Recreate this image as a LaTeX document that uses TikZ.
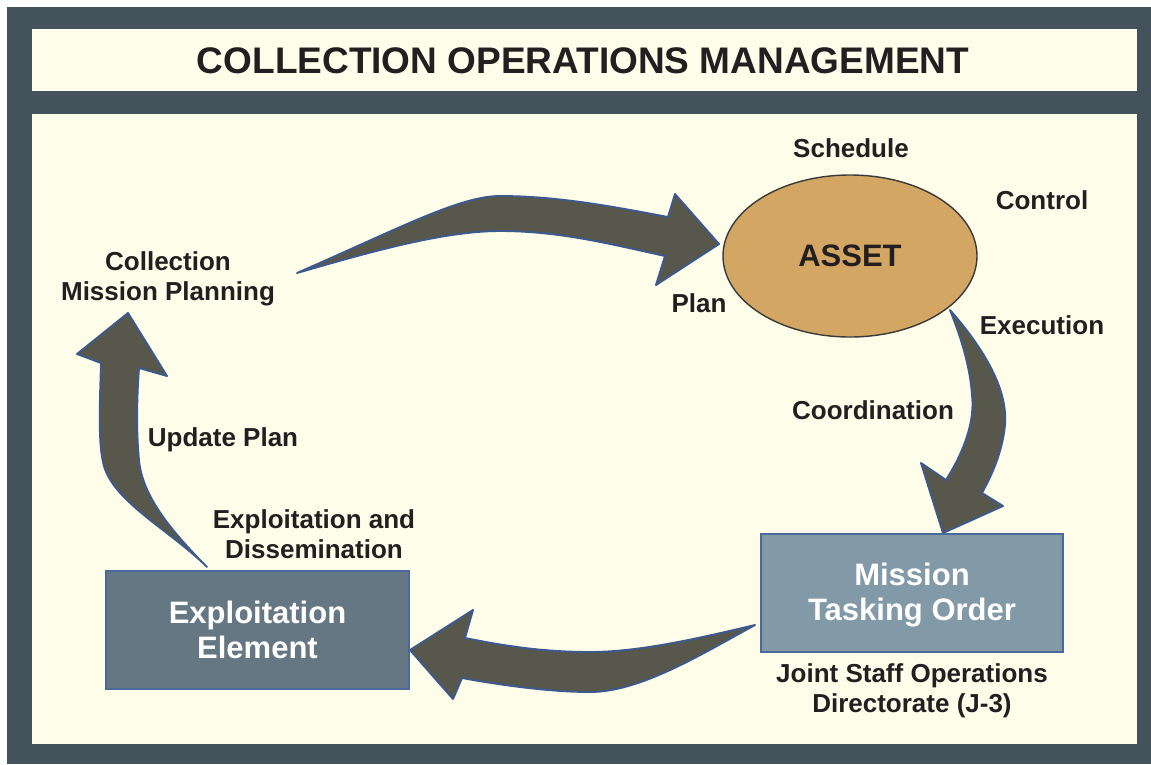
\documentclass[tikz,border=0pt]{standalone}
\usepackage{fontspec}
\setmainfont{Liberation Sans}
\usetikzlibrary{shapes.geometric}
\definecolor{frame}{HTML}{43525B}
\definecolor{cream}{HTML}{FEFDE9}
\definecolor{arrowfill}{HTML}{58574B}
\definecolor{arrowline}{HTML}{3D5A8F}
\definecolor{assetfill}{HTML}{D3A763}
\definecolor{assetline}{HTML}{3A3A3A}
\definecolor{mtofill}{HTML}{8299A8}
\definecolor{eefill}{HTML}{647783}
\definecolor{boxline}{HTML}{4B6A99}
\definecolor{ink}{HTML}{231F20}
\tikzset{
  blockarrow/.style={fill=arrowfill, draw=arrowline, line width=1.9pt, line join=round},
  lbl/.style={font=\bfseries\fontsize{26}{30}\selectfont, text=ink, align=center, inner sep=0pt},
  boxtext/.style={font=\bfseries\fontsize{31}{35}\selectfont, text=white, align=center},
}
\begin{document}
\begin{tikzpicture}[x=1pt,y=-1pt]
\useasboundingbox (0,0) rectangle (1151,764);
\fill[white] (0,0) rectangle (1151,764);
\fill[frame] (7,7) rectangle (1151,764);
\fill[cream] (32,29) rectangle (1137,91);
\fill[cream] (32,114) rectangle (1137,744);
\node[font=\bfseries\fontsize{37}{40}\selectfont, text=ink, inner sep=0pt] (title) at (583,61) {COLLECTION OPERATIONS MANAGEMENT};

% block arrows
\draw[blockarrow] (297,273) .. controls (400,228) and (460,196) .. (500,196)
  .. controls (560,196) and (620,208) .. (668,217)
  -- (675,194) -- (719,244) -- (656,285) -- (665,256)
  .. controls (610,244) and (560,231) .. (500,231)
  .. controls (440,231) and (360,255) .. cycle;
\draw[blockarrow] (950,310) .. controls (985,350) and (1008,390) .. (1005,425)
  .. controls (1002,455) and (990,478) .. (982,493)
  -- (1003,506) -- (943,533) -- (921,463) -- (946,480)
  .. controls (965,450) and (975,420) .. (972,395)
  .. controls (970,365) and (960,335) .. cycle;
\draw[blockarrow] (755,625) .. controls (700,638) and (640,652) .. (590,652)
  .. controls (540,652) and (500,645) .. (465,638)
  -- (473,610) -- (410,650) -- (453,699) -- (462,678)
  .. controls (500,685) and (550,692) .. (590,692)
  .. controls (640,692) and (700,655) .. cycle;
\draw[blockarrow] (207,567) .. controls (170,530) and (110,500) .. (103,462)
  .. controls (98,440) and (100,400) .. (101,363)
  -- (77,354) -- (128,313) -- (167,376) -- (139,368)
  .. controls (137,395) and (136,430) .. (139,460)
  .. controls (142,495) and (170,530) .. cycle;

% nodes
\node[ellipse, fill=assetfill, draw=assetline, line width=1.4pt, minimum width=254pt, minimum height=162pt, font=\bfseries\fontsize{31}{35}\selectfont, text=ink] (asset) at (850,256) {ASSET};
\node[rectangle, fill=mtofill, draw=boxline, line width=1.4pt, minimum width=302pt, minimum height=118pt] (mto) at (912,593) {};
\node[boxtext] (mtotext) at (912,595) {Mission\\Tasking Order};
\node[rectangle, fill=eefill, draw=boxline, line width=1.4pt, minimum width=303pt, minimum height=118pt, boxtext] (ee) at (257.5,630) {Exploitation\\Element};

% labels
\node[lbl] (schedule) at (851,148) {Schedule};
\node[lbl] (control) at (1042,200) {Control};
\node[lbl] (plan) at (699,303) {Plan};
\node[lbl] (execution) at (1042,325) {Execution};
\node[lbl] (coord) at (873,410) {Coordination};
\node[lbl] (cmp) at (168,279) {Collection\\Mission Planning};
\node[lbl] (update) at (223,440) {Update Plan};
\node[lbl] (exdis) at (314,534) {Exploitation and\\Dissemination};
\node[lbl] (j3) at (912,691) {Joint Staff Operations\\Directorate (J-3)};
\end{tikzpicture}
\end{document}
